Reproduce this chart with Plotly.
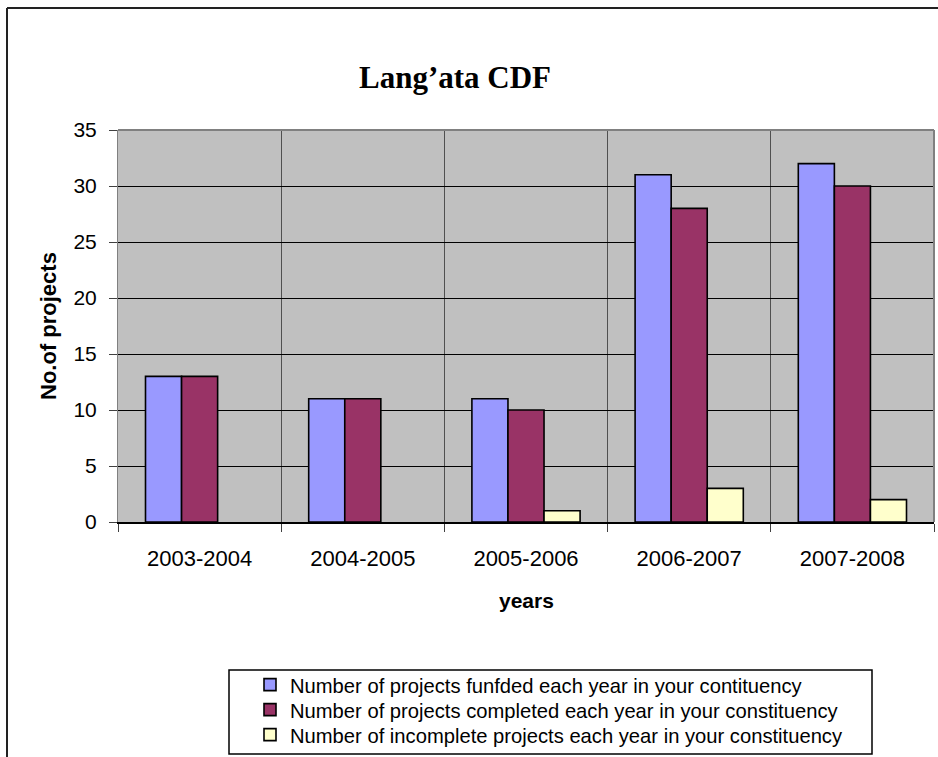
import plotly.graph_objects as go

# Fiscal years on the category axis
years = ["2003-2004", "2004-2005", "2005-2006", "2006-2007", "2007-2008"]

# Project counts per year
funded = [13, 11, 11, 31, 32]
completed = [13, 11, 10, 28, 30]
incomplete = [0, 0, 1, 3, 2]

series_names = [
    "Number of projects funfded each year in your contituency",
    "Number of projects completed each year in your constituency",
    "Number of incomplete projects each year in your constituency",
]
series_colors = ["#9999FF", "#993366", "#FFFFCC"]

y_ticks = [0, 5, 10, 15, 20, 25, 30, 35]

W, H = 938, 757
ML, MR, MT, MB = 118, 4, 130, 235
PW = W - ML - MR
PH = H - MT - MB


def px(x):
    return (x - ML) / PW


def py(y):
    return (H - MB - y) / PH


SANS = "Liberation Sans, Arial, sans-serif"
SERIF = "Liberation Serif, Times New Roman, serif"

legend_ids = ["legend", "legend2", "legend3"]
legend_rows = [685, 710, 735]

fig = go.Figure()
for name, vals, col, lid in zip(series_names, [funded, completed, incomplete], series_colors, legend_ids):
    # zero counts leave an empty slot instead of a flat outlined bar
    fig.add_trace(go.Bar(
        x=years, y=[v if v else None for v in vals], name=name,
        marker=dict(color=col, line=dict(color="black", width=1.6)),
        legend=lid,
    ))

legend_style = dict(
    xanchor="left", yanchor="middle",
    font=dict(family=SANS, size=20.2, color="black"),
    bgcolor="rgba(0,0,0,0)", borderwidth=0,
)

fig.update_layout(
    width=W, height=H,
    margin=dict(l=ML, r=MR, t=MT, b=MB, autoexpand=False),
    paper_bgcolor="white",
    plot_bgcolor="#C0C0C0",
    barmode="group",
    bargap=0.337,
    bargroupgap=0,
    showlegend=True,
    font=dict(family=SANS, color="black"),
)
for lid, row in zip(legend_ids, legend_rows):
    fig.update_layout({lid: dict(x=px(250), y=py(row), **legend_style)})

fig.update_xaxes(
    type="category",
    tickson="boundaries",
    showgrid=True, gridcolor="#505050", gridwidth=1,
    ticks="outside", ticklen=8, tickcolor="#404040",
    showline=True, linecolor="black", linewidth=2.2,
    tickfont=dict(family=SANS, size=22, color="black"),
    ticklabelstandoff=15,
    range=[-0.5, 4.5],
)
fig.update_yaxes(
    range=[0, 35], tickvals=y_ticks,
    showgrid=True, gridcolor="black", gridwidth=1,
    ticks="outside", ticklen=8, tickcolor="#404040",
    showline=True, linecolor="#808080", linewidth=1,
    tickfont=dict(family=SANS, size=21, color="black"),
    ticklabelstandoff=8,
    zeroline=False,
)

# plot-area border on top and right
fig.add_shape(type="line", xref="paper", yref="paper", x0=0, x1=1, y0=1, y1=1,
              line=dict(color="#808080", width=2))
fig.add_shape(type="line", xref="paper", yref="paper", x0=1, x1=1, y0=0, y1=1,
              line=dict(color="#808080", width=2))

# chart frame (top and left edges)
fig.add_shape(type="line", xref="paper", yref="paper", x0=px(7), x1=px(940), y0=py(8), y1=py(8),
              line=dict(color="#222222", width=2))
fig.add_shape(type="line", xref="paper", yref="paper", x0=px(7), x1=px(7), y0=py(8), y1=py(760),
              line=dict(color="#222222", width=2))

# legend box
fig.add_shape(type="rect", xref="paper", yref="paper", x0=px(229), x1=px(872), y0=py(670), y1=py(754),
              line=dict(color="black", width=1.5), fillcolor="rgba(0,0,0,0)")

fig.add_annotation(text="Lang\u2019ata CDF", x=px(455), y=py(78), xref="paper", yref="paper",
                   showarrow=False, xanchor="center", yanchor="middle",
                   font=dict(family=SERIF, size=31, color="black", weight="bold"))
fig.add_annotation(text="<b>No.of projects</b>", x=px(48), y=py(326), xref="paper", yref="paper",
                   showarrow=False, xanchor="center", yanchor="middle", textangle=-90,
                   font=dict(family=SANS, size=22, color="black"))
fig.add_annotation(text="<b>years</b>", x=px(526), y=py(600), xref="paper", yref="paper",
                   showarrow=False, xanchor="center", yanchor="middle",
                   font=dict(family=SANS, size=21, color="black"))

fig.write_html("out.html")
